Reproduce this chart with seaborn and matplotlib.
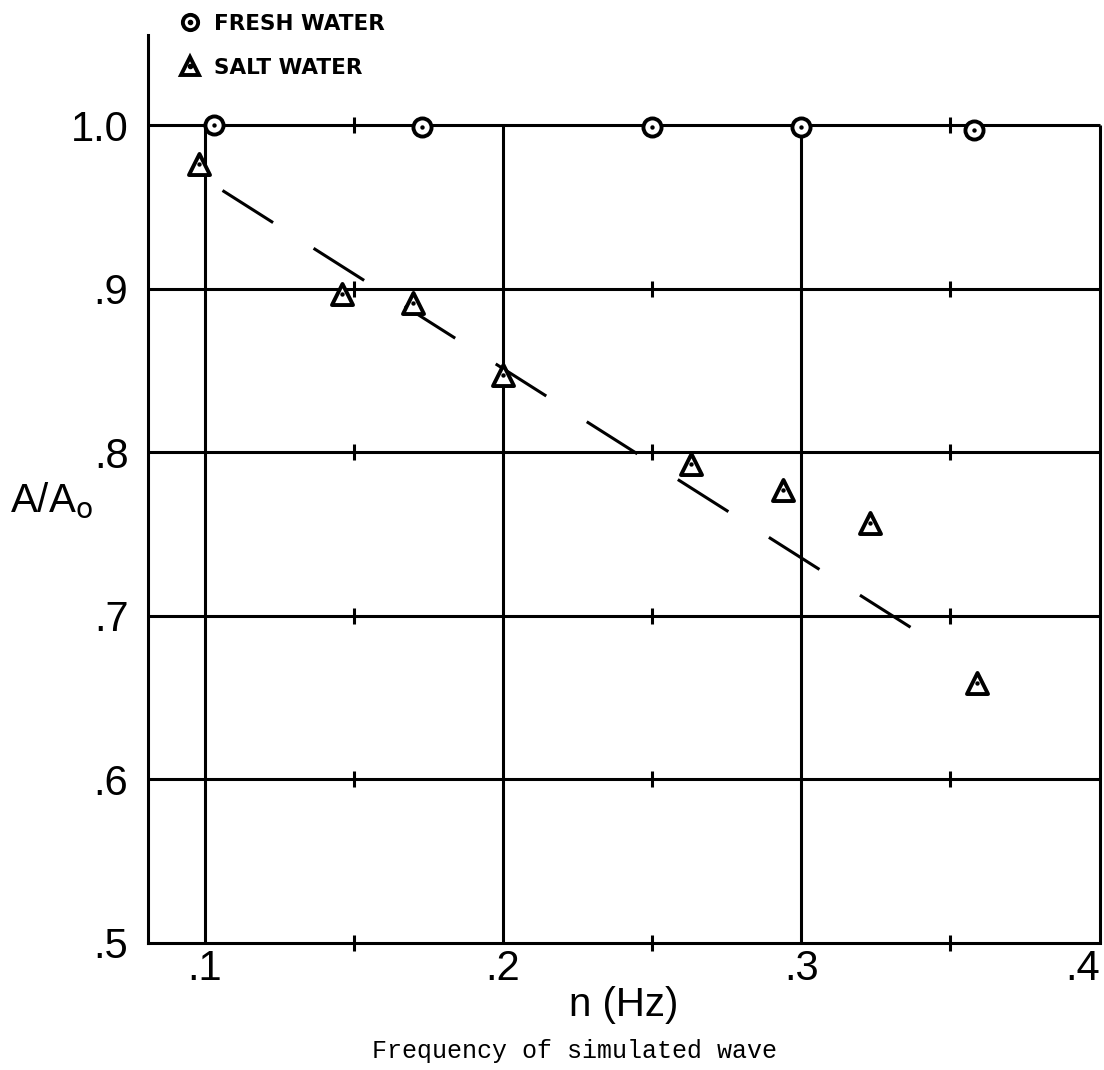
import matplotlib
matplotlib.use("Agg")
import matplotlib.pyplot as plt
import seaborn as sns
import pandas as pd
from matplotlib.lines import Line2D

# ---- data ----
fresh_x = [0.103, 0.173, 0.250, 0.300, 0.358]
fresh_y = [1.000, 0.999, 0.999, 0.999, 0.997]

salt_x = [0.098, 0.146, 0.170, 0.200, 0.263, 0.294, 0.323, 0.359]
salt_y = [0.976, 0.897, 0.891, 0.847, 0.793, 0.777, 0.757, 0.659]

fit_x = [0.106, 0.347]
fit_y = [0.960, 0.681]

x_major = [0.1, 0.2, 0.3, 0.4]
x_labels = ['.1', '.2', '.3', '.4']
x_minor = [0.15, 0.25, 0.35]
y_major = [0.5, 0.6, 0.7, 0.8, 0.9, 1.0]
y_labels = ['.5', '.6', '.7', '.8', '.9', '1.0']

XMIN, XMAX = 0.081, 0.4
YMIN, YMAX = 0.5, 1.055

sns.set_style("white", {'text.color': 'black', 'axes.labelcolor': 'black',
                        'xtick.color': 'black', 'ytick.color': 'black'})
plt.rcParams['font.family'] = ['Liberation Sans', 'DejaVu Sans']

fig = plt.figure(figsize=(11.04, 10.70), dpi=100)
ax = fig.add_axes([0.134, 0.1187, 0.862, 0.8485])
ax.set_xlim(XMIN, XMAX)
ax.set_ylim(YMIN, YMAX)

LW = 2.2
# hand drawn grid
ax.hlines(y_major[1:], XMIN, XMAX, color='black', lw=LW, zorder=1, clip_on=False)
ax.vlines(x_major, YMIN, 1.0, color='black', lw=LW, zorder=1, clip_on=False)
for yy in y_major:
    ax.plot(x_minor, [yy] * len(x_minor), ls='none', marker='|', ms=11,
            mew=LW, color='black', zorder=1, clip_on=False)

for side in ['top', 'right']:
    ax.spines[side].set_visible(False)
for side in ['left', 'bottom']:
    ax.spines[side].set_linewidth(LW)
    ax.spines[side].set_color('black')

ax.set_xticks(x_major)
ax.set_xticklabels(x_labels)
ax.set_yticks(y_major)
ax.set_yticklabels(y_labels)
ax.tick_params(length=0, labelsize=30)
ax.tick_params(axis='x', pad=4)
ax.tick_params(axis='y', pad=14)
# last x label sits at the page edge, keep it inside
ax.get_xticklabels()[-1].set_horizontalalignment('right')

# dashed trend line
sns.lineplot(x=fit_x, y=fit_y, ax=ax, color='black', lw=LW,
             linestyle=(0, (19.6, 15.7)), zorder=2)

fresh = pd.DataFrame({'x': fresh_x, 'y': fresh_y})
salt = pd.DataFrame({'x': salt_x, 'y': salt_y})

sns.scatterplot(data=fresh, x='x', y='y', ax=ax, marker='o', s=170,
                facecolor='white', edgecolor='black', linewidth=2.8, zorder=4)
sns.scatterplot(data=fresh, x='x', y='y', ax=ax, marker='o', s=10,
                color='black', linewidth=0, zorder=5)
sns.scatterplot(data=salt, x='x', y='y', ax=ax, marker='^', s=230,
                facecolor='white', edgecolor='black', linewidth=2.8, zorder=4)
sns.scatterplot(data=salt, x='x', y='y', ax=ax, marker='o', s=10,
                color='black', linewidth=0, zorder=5)

ax.set_xlabel('n (Hz)', fontsize=29, labelpad=-2)
ax.set_ylabel('')
fig.text(0.009, 0.533, r'A/A$_{\mathrm{o}}$', fontsize=29, va='center', ha='left')

fig.text(0.52, 0.011, 'Frequency of simulated wave', fontsize=18,
         family=['Liberation Mono', 'DejaVu Sans Mono'], ha='center', va='baseline')

# legend
h_fresh = (Line2D([], [], ls='none', marker='o', ms=11, mfc='white', mec='black', mew=2.8),
           Line2D([], [], ls='none', marker='o', ms=3, color='black'))
h_salt = (Line2D([], [], ls='none', marker='^', ms=13, mfc='white', mec='black', mew=2.8),
          Line2D([], [], ls='none', marker='o', ms=3, color='black'))
fig.legend([h_fresh, h_salt], ['FRESH WATER', 'SALT WATER'], loc='upper left',
           bbox_to_anchor=(0.162, 0.987), frameon=False, handlelength=1.0,
           handletextpad=0.65, labelspacing=1.1, borderpad=0, borderaxespad=0,
           prop={'family': 'DejaVu Sans', 'weight': 'bold', 'size': 15.5})

fig.savefig('out.png', dpi=100, facecolor='white')
